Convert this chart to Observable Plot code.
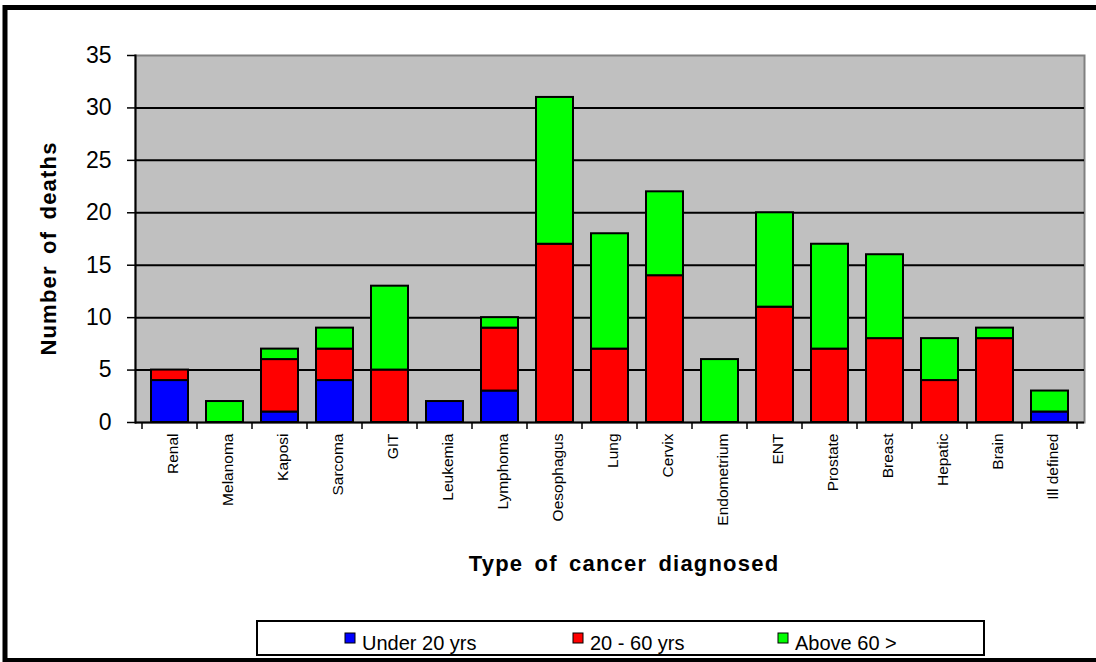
<!DOCTYPE html>
<html>
<head>
<meta charset="utf-8">
<script src="https://cdn.jsdelivr.net/npm/d3@7"></script>
<script src="https://cdn.jsdelivr.net/npm/@observablehq/plot@0.6"></script>
<style>
  html, body { margin: 0; padding: 0; background: #fff; }
  #chart { width: 1096px; height: 662px; overflow: hidden; }
</style>
</head>
<body>
<div id="chart"></div>
<script>
const categories = ["Renal","Melanoma","Kaposi","Sarcoma","GIT","Leukemia","Lymphoma","Oesophagus","Lung","Cervix","Endometrium","ENT","Prostate","Breast","Hepatic","Brain","Ill defined"];
const groups = ["Under 20 yrs", "20 - 60 yrs", "Above 60 >"];
const under20 = [4,0,1,4,0,2,3,0,0,0,0,0,0,0,0,0,1];
const age20to60 = [1,0,5,3,5,0,6,17,7,14,0,11,7,8,4,8,0];
const above60 = [0,2,1,2,8,0,1,14,11,8,6,9,10,8,4,1,2];
const yTicks = [0,5,10,15,20,25,30,35];
const gridValues = [5,10,15,20,25,30];
const colors = ["#0000FF", "#FF0000", "#00FF00"];

const series = [under20, age20to60, above60];
const data = [];
groups.forEach((g, gi) => {
  categories.forEach((c, ci) => {
    data.push({cat: c, group: g, value: series[gi][ci]});
  });
});

const FONT = "Arial, 'Liberation Sans', Helvetica, sans-serif";

const plot = Plot.plot({
  width: 1096,
  height: 662,
  marginLeft: 135,
  marginRight: 12,
  marginTop: 55,
  marginBottom: 240,
  style: {fontFamily: FONT, background: "#fff", color: "#000", overflow: "visible"},
  x: {type: "band", domain: categories, paddingInner: 0.32, paddingOuter: 0.16, axis: null},
  y: {domain: [0, 35], axis: null},
  color: {domain: groups, range: colors},
  marks: [
    Plot.frame({fill: "#C0C0C0", stroke: "#808080", strokeWidth: 2}),
    Plot.ruleY(gridValues, {stroke: "#000", strokeWidth: 2}),
    Plot.barY(data, {x: "cat", y: "value", fill: "group", stroke: "#000", strokeWidth: 2, order: groups}),
    Plot.frame({anchor: "left", stroke: "#000", strokeWidth: 2}),
    Plot.ruleY([0], {stroke: "#000", strokeWidth: 2}),
    Plot.axisY({ticks: yTicks, tickSize: 8, tickPadding: 16, fontSize: 23, stroke: "#000", strokeWidth: 1.5, fill: "#000", label: null}),
    Plot.axisX({tickSize: 0, tickRotate: -90, fontSize: 15.5, tickPadding: 11, dx: 3, fill: "#000", label: null})
  ]
});

document.getElementById("chart").appendChild(plot);

const svg = d3.select(plot);
const xs = plot.scale("x");
const ys = plot.scale("y");
const y0 = ys.apply(0);
const step = xs.step;
const gap = (step - xs.bandwidth) / 2;

// band-boundary ticks on the x axis
const bounds = categories.map(c => xs.apply(c) - gap);
bounds.push(xs.apply(categories[categories.length - 1]) + xs.bandwidth + gap);
svg.append("g").selectAll("line").data(bounds).join("line")
  .attr("x1", d => d).attr("x2", d => d)
  .attr("y1", y0).attr("y2", y0 + 7)
  .attr("stroke", "#000").attr("stroke-width", 1.5);

// axis titles
const yMid = (ys.apply(0) + ys.apply(35)) / 2 + 10;
svg.append("text")
  .attr("transform", `translate(56,${yMid}) rotate(-90)`)
  .attr("text-anchor", "middle")
  .attr("font-family", FONT).attr("font-weight", "bold").attr("font-size", 22)
  .attr("letter-spacing", 1.2).attr("word-spacing", 4)
  .attr("fill", "#000")
  .text("Number of deaths");

svg.append("text")
  .attr("x", 624).attr("y", 571)
  .attr("text-anchor", "middle")
  .attr("font-family", FONT).attr("font-weight", "bold").attr("font-size", 22)
  .attr("letter-spacing", 1.2).attr("word-spacing", 4)
  .attr("fill", "#000")
  .text("Type of cancer diagnosed");

// legend
const lg = svg.append("g").attr("text-anchor", "start");
lg.append("rect").attr("x", 257).attr("y", 621).attr("width", 727).attr("height", 34)
  .attr("fill", "#fff").attr("stroke", "#000").attr("stroke-width", 2);
const legendPos = [345, 573, 778];
groups.forEach((g, i) => {
  lg.append("rect").attr("x", legendPos[i]).attr("y", 633).attr("width", 10).attr("height", 10)
    .attr("fill", colors[i]).attr("stroke", "#000").attr("stroke-width", 1);
  lg.append("text").attr("x", legendPos[i] + 17).attr("y", 650)
    .attr("text-anchor", "start")
    .attr("font-family", FONT).attr("font-size", 20).attr("fill", "#000")
    .text(g);
});

// outer frame
svg.append("rect").attr("x", 5).attr("y", 7.5).attr("width", 1200).attr("height", 653)
  .attr("fill", "none").attr("stroke", "#000").attr("stroke-width", 5);
</script>
</body>
</html>
